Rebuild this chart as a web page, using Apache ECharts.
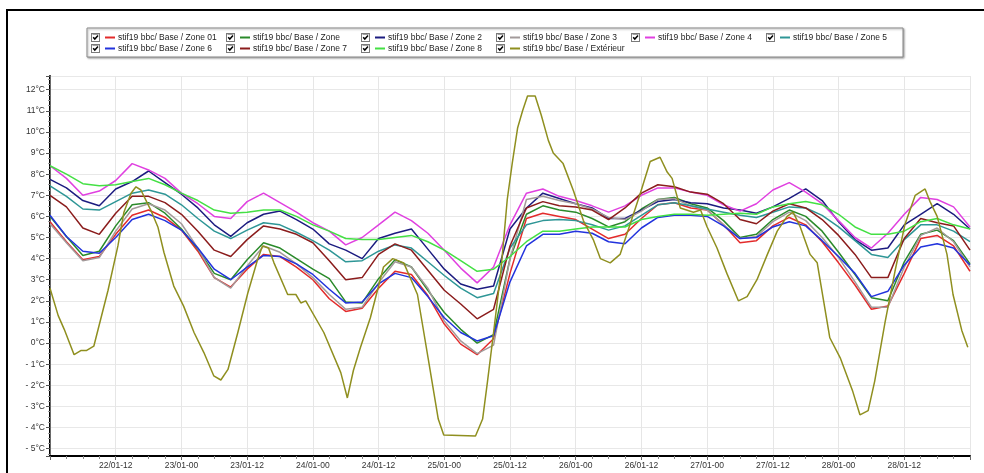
<!DOCTYPE html>
<html>
<head>
<meta charset="utf-8">
<script src="https://cdn.jsdelivr.net/npm/echarts@6/dist/echarts.min.js"></script>
<style>
  html, body { margin: 0; padding: 0; background: #fff; }
  #chart { width: 984px; height: 473px; }
</style>
</head>
<body>
<div id="chart"></div>
<script>
// Sampling instants of the zone sensors, in hours from 22/01 00:00 (every 3 h)
const zoneHours = [0,3,6,9,12,15,18,21,24,27,30,33,36,39,42,45,48,51,54,57,60,63,66,69,72,75,78,81,84,87,90,93,96,99,102,105,108,111,114,117,120,123,126,129,132,135,138,141,144,147,150,153,156,159,162,165,168];

// Tick labels of the time axis, one every 12 h (day/month-hour)
const xTickLabels = ['22/01-00','22/01-12','23/01-00','23/01-12','24/01-00','24/01-12','25/01-00','25/01-12','26/01-00','26/01-12','27/01-00','27/01-12','28/01-00','28/01-12','29/01-00'];

const seriesNames = [
  'stif19 bbc/ Base / Zone 01',
  'stif19 bbc/ Base / Zone',
  'stif19 bbc/ Base / Zone 2',
  'stif19 bbc/ Base / Zone 3',
  'stif19 bbc/ Base / Zone 4',
  'stif19 bbc/ Base / Zone 5',
  'stif19 bbc/ Base / Zone 6',
  'stif19 bbc/ Base / Zone 7',
  'stif19 bbc/ Base / Zone 8',
  'stif19 bbc/ Base / Extérieur'
];

const seriesColors = ['#e32b2b','#2a8a2a','#1c1c80','#a39a9a','#e040e0','#2e9696','#2233dd','#8b1c1c','#44e044','#8f8f1f'];

// Zone temperatures (°C)
const zone01 = [5.75,4.8,3.95,4.1,5.15,6.05,6.3,5.95,5.35,4.35,3.1,2.65,3.5,4.2,4.1,3.6,3.0,2.1,1.5,1.65,2.6,3.4,3.25,2.25,0.9,-0.05,-0.55,0.2,3.3,5.9,6.15,6.0,5.85,5.4,4.95,5.15,5.9,6.55,6.65,6.4,6.3,5.6,4.75,4.85,5.55,5.95,5.6,4.8,3.8,2.75,1.6,1.75,3.3,4.95,5.1,4.6,3.4];
const zoneBase = [6.0,5.05,4.15,4.35,5.55,6.55,6.65,6.15,5.4,4.45,3.3,3.0,3.95,4.75,4.5,4.0,3.5,3.05,1.95,1.9,3.05,3.95,3.6,2.5,1.45,0.65,0.0,0.4,4.0,6.1,6.5,6.3,6.2,5.9,5.5,5.75,6.35,6.8,6.9,6.6,6.4,5.8,5.0,5.15,5.85,6.3,6.0,5.3,4.3,3.25,2.15,2.0,3.85,5.15,5.35,4.85,3.75];
const zone2 = [7.75,7.35,6.75,6.5,7.3,7.65,8.15,7.6,7.05,6.4,5.6,5.05,5.7,6.1,6.25,5.85,5.4,4.7,4.4,4.0,4.95,5.2,5.4,4.45,3.5,2.8,2.55,2.7,5.4,6.4,7.1,6.85,6.6,6.4,5.9,5.9,6.3,6.7,6.8,6.65,6.6,6.4,6.3,6.15,6.45,6.85,7.3,6.75,5.75,4.9,4.4,4.5,5.6,6.1,6.6,6.1,5.4];
const zone3 = [5.65,4.75,3.9,4.05,5.3,6.35,6.6,6.3,5.65,4.5,3.1,2.6,3.65,4.6,4.3,3.75,3.1,2.3,1.6,1.7,2.85,3.85,3.6,2.6,1.05,0.1,-0.5,-0.1,4.0,6.8,6.95,6.75,6.6,6.35,5.95,5.85,6.25,6.8,6.85,6.5,6.3,5.6,4.95,5.05,5.75,6.2,5.8,5.0,4.05,2.9,1.7,1.7,3.6,5.1,5.45,4.8,3.6];
const zone4 = [8.4,7.8,7.0,7.2,7.7,8.5,8.2,7.8,7.1,6.6,6.0,5.9,6.7,7.1,6.65,6.2,5.7,5.3,4.65,5.0,5.6,6.2,5.8,5.2,4.4,3.55,2.85,3.6,5.6,7.1,7.3,6.95,6.75,6.5,6.2,6.5,7.0,7.35,7.35,7.15,7.0,6.55,6.25,6.6,7.25,7.6,7.15,6.6,5.8,5.0,4.5,5.2,6.1,6.9,6.8,6.45,5.5];
const zone5 = [7.45,6.95,6.35,6.3,6.7,7.1,7.25,7.05,6.55,5.9,5.3,4.95,5.35,5.7,5.6,5.25,4.85,4.4,3.85,3.9,4.35,4.65,4.5,3.85,3.2,2.6,2.15,2.35,4.5,5.6,5.8,5.85,5.8,5.6,5.35,5.55,6.05,6.55,6.65,6.5,6.35,6.2,6.05,5.95,6.2,6.45,6.4,6.05,5.5,4.85,4.2,4.05,4.9,5.6,5.6,5.3,4.8];
const zone6 = [6.05,5.05,4.35,4.25,5.0,5.85,6.1,5.8,5.35,4.5,3.5,3.0,3.6,4.15,4.1,3.75,3.25,2.55,1.9,1.95,2.8,3.3,3.1,2.2,1.2,0.5,0.1,0.35,2.9,4.6,5.15,5.15,5.3,5.2,4.8,4.7,5.45,5.95,6.05,6.05,6.0,5.55,4.95,5.0,5.5,5.75,5.55,4.85,4.1,3.3,2.2,2.45,3.7,4.55,4.7,4.5,3.7];
const zone7 = [7.0,6.45,5.45,5.15,6.15,6.95,6.95,6.65,6.1,5.3,4.4,4.1,4.9,5.55,5.4,5.15,4.75,3.9,3.0,3.1,4.2,4.7,4.4,3.45,2.5,1.85,1.15,1.6,4.6,6.4,6.7,6.5,6.45,6.3,5.85,6.4,7.1,7.5,7.4,7.15,7.05,6.6,5.85,5.65,6.25,6.6,6.4,5.85,5.1,4.2,3.1,3.1,4.95,5.9,5.7,5.55,4.4];
const zone8 = [8.4,8.0,7.55,7.45,7.5,7.65,7.8,7.5,7.1,6.75,6.3,6.15,6.2,6.3,6.3,6.0,5.6,5.3,4.95,4.9,4.9,5.0,5.1,4.8,4.4,3.9,3.4,3.5,4.1,4.8,5.3,5.3,5.4,5.5,5.5,5.5,5.85,6.0,6.1,6.1,6.05,6.1,6.15,6.1,6.45,6.6,6.7,6.55,6.1,5.5,5.15,5.15,5.3,5.75,5.9,5.6,5.4];

// Outdoor sensor: its own sampling instants (hours from 22/01 00:00) and temperatures (°C)
const outdoorHours = [0,1.5,2.6,4.4,5.7,6.7,8.0,10.6,12.4,13.5,14.8,15.7,16.6,18.4,19.7,20.8,22.6,24.4,26.3,28.1,29.9,31.2,32.5,34.3,36.1,37.9,38.8,39.9,40.9,43.4,44.9,45.8,46.7,50.0,53.1,54.3,55.4,56.7,58.5,60.9,62.6,64.6,67.1,69.1,70.9,71.9,77.7,79.0,79.9,81.0,82.3,83.5,84.4,85.4,86.3,87.2,88.6,89.7,91.0,91.9,93.7,95.6,97.4,99.2,100.5,102.3,104.1,105.9,107.8,109.6,111.4,112.7,113.6,115.1,117.5,118.8,120.0,121.8,123.6,125.7,127.3,129.1,131.0,132.8,134.6,135.7,137.0,138.8,140.1,142.4,144.3,146.6,147.9,149.4,150.6,152.5,154.3,156.1,158.0,159.8,160.7,162.0,163.8,164.9,166.5,167.6];
const outdoorTemps = [2.6,1.3,0.65,-0.55,-0.35,-0.35,-0.15,2.5,4.6,6.2,7.1,7.4,7.25,6.3,5.5,4.3,2.7,1.75,0.5,-0.45,-1.55,-1.75,-1.25,0.5,2.35,3.95,4.6,4.5,3.8,2.3,2.3,1.9,2.0,0.5,-1.4,-2.6,-1.3,-0.2,1.2,3.6,4.0,3.8,2.3,-0.8,-3.6,-4.35,-4.4,-3.6,-1.8,0.5,3.3,6.8,8.5,10.2,11.0,11.7,11.7,10.8,9.6,9.0,8.5,7.2,5.8,4.9,4.0,3.8,4.2,5.6,7.1,8.6,8.8,8.1,7.8,6.4,6.2,6.3,5.5,4.5,3.3,2.0,2.2,3.0,4.2,5.3,6.0,6.2,5.5,4.2,3.8,0.25,-0.7,-2.3,-3.4,-3.2,-1.8,1.0,3.4,5.6,7.0,7.3,6.7,6.0,4.2,2.3,0.6,-0.2];

const zoneValues = [zone01, zoneBase, zone2, zone3, zone4, zone5, zone6, zone7, zone8];

function pairs(times, values) {
  return times.map((t, i) => [t, values[i]]);
}

const seriesData = zoneValues.map(v => pairs(zoneHours, v));
seriesData.push(pairs(outdoorHours, outdoorTemps));

// Legend check box drawn as a small SVG picture
const checkSvg =
  "<svg xmlns='http://www.w3.org/2000/svg' width='9' height='9'>" +
  "<rect x='0.5' y='0.5' width='8' height='8' fill='#ffffff' stroke='#7a7a7a'/>" +
  "<path d='M1.5 1.5 H7.5' stroke='#a0a0a0'/>" +
  "<path d='M2.2 4.3 L3.8 6.1 L7 2.6' fill='none' stroke='#000000' stroke-width='1.5'/>" +
  "</svg>";
const checkIcon = 'image://data:image/svg+xml;charset=utf-8,' + encodeURIComponent(checkSvg);

const FONT = 'Liberation Sans';

const legendRich = {
  s: { width: 3 },
  t: { width: 108, fontSize: 8.5, fontFamily: FONT, color: '#222', lineHeight: 11 }
};
seriesColors.forEach((c, i) => {
  legendRich['l' + i] = { width: 10, height: 2, backgroundColor: c, verticalAlign: 'middle', fontSize: 1 };
});

const chart = echarts.init(document.getElementById('chart'), null, { renderer: 'canvas' });

chart.setOption({
  animation: false,
  backgroundColor: '#ffffff',
  graphic: [{
    type: 'rect',
    shape: { x: 7, y: 10, width: 1000, height: 500 },
    style: { fill: 'none', stroke: '#000000', lineWidth: 2 },
    silent: true,
    z: 100
  }],
  legend: {
    left: 87,
    top: 28,
    width: 812,
    padding: [4, 2, 3, 4],
    itemGap: 0,
    itemWidth: 9,
    itemHeight: 9,
    icon: checkIcon,
    selectedMode: false,
    backgroundColor: '#ffffff',
    borderColor: '#8a8a8a',
    borderWidth: 1,
    borderRadius: 0,
    shadowColor: 'rgba(0,0,0,0.35)',
    shadowBlur: 2,
    shadowOffsetX: 1,
    shadowOffsetY: 1,
    data: seriesNames,
    formatter: function (name) {
      const i = seriesNames.indexOf(name);
      return '{l' + i + '| }{s| }{t|' + name + '}';
    },
    textStyle: { fontSize: 8.5, fontFamily: FONT, lineHeight: 11, rich: legendRich }
  },
  grid: { left: 50, right: 14, top: 76, bottom: 17, containLabel: false },
  xAxis: {
    type: 'value',
    min: 0,
    max: 168,
    interval: 12,
    axisLine: { show: true, onZero: false, lineStyle: { color: '#000000', width: 2 } },
    axisTick: { show: true, length: 4, lineStyle: { color: '#666666' } },
    minorTick: { show: true, splitNumber: 4, length: 3, lineStyle: { color: '#888888' } },
    axisLabel: {
      showMinLabel: false,
      showMaxLabel: false,
      margin: 5,
      fontSize: 8.5,
      fontFamily: FONT,
      color: '#333333',
      formatter: v => xTickLabels[Math.round(v / 12)]
    },
    splitLine: { show: true, lineStyle: { color: '#e6e6e6', width: 1 } }
  },
  yAxis: [{
    type: 'value',
    min: -5.35,
    max: 12.65,
    splitNumber: 18,
    axisLine: { show: true, onZero: false, lineStyle: { color: '#000000', width: 2 } },
    axisTick: { show: true, length: 4, lineStyle: { color: '#555555' } },
    minorTick: { show: true, splitNumber: 4, length: 2, lineStyle: { color: '#999999' } },
    axisLabel: {
      showMinLabel: false,
      showMaxLabel: false,
      margin: 5,
      fontSize: 8.5,
      fontFamily: FONT,
      color: '#333333',
      formatter: v => (v < 0 ? '- ' + (-v) : String(v)) + '°C'
    },
    splitLine: { show: true, lineStyle: { color: '#e8e8e8', width: 1 } }
  }, {
    type: 'value',
    position: 'right',
    min: -5.35,
    max: 12.65,
    axisLine: { show: true, lineStyle: { color: '#6a6a6a', width: 1 } },
    axisTick: { show: false },
    axisLabel: { show: false },
    splitLine: { show: false }
  }],
  series: seriesNames.map((name, i) => ({
    name: name,
    type: 'line',
    yAxisIndex: 0,
    data: seriesData[i],
    showSymbol: false,
    symbol: 'none',
    color: seriesColors[i],
    lineStyle: { width: 1.5, color: seriesColors[i] },
    emphasis: { disabled: true },
    silent: true
  }))
});
</script>
</body>
</html>
